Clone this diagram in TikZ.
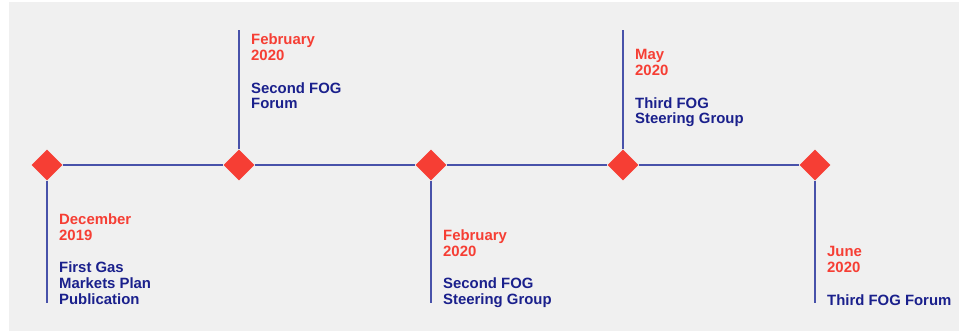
\documentclass[tikz,border=0pt]{standalone}
\usepackage{fontspec}
\setmainfont{Liberation Sans}
\usepackage{xcolor}
\usepackage{tikz}
\usetikzlibrary{positioning,shapes.geometric}
\definecolor{tlred}{RGB}{246,62,52}
\definecolor{tlnavy}{RGB}{26,32,140}
\definecolor{tlline}{RGB}{72,82,170}
\definecolor{tlbg}{RGB}{240,240,240}

\begin{document}
\begin{tikzpicture}[
  x=1pt, y=-1pt,
  mark box/.style={diamond, fill=tlred, minimum size=31pt, inner sep=0pt},
  date/.style={anchor=north west, inner sep=0pt, align=left, text=tlred,
               font=\bfseries\fontsize{14.9}{16}\selectfont},
  title/.style={anchor=north west, inner sep=0pt, align=left, text=tlnavy,
                font=\bfseries\fontsize{14.9}{16}\selectfont},
  tick/.style={draw=tlline, line width=1.1pt},
]
\useasboundingbox (0,0) rectangle (959,335);
\fill[white] (0,0) rectangle (959,335);
\fill[tlbg] (9,2) rectangle (959,331);

% milestones on the axis
\node[mark box] (m1) at (47,165) {};
\node[mark box] (m2) at (239,165) {};
\node[mark box] (m3) at (431,165) {};
\node[mark box] (m4) at (623,165) {};
\node[mark box] (m5) at (815,165) {};

\coordinate (e1) at (47,303);
\coordinate (e2) at (239,30);
\coordinate (e3) at (431,303);
\coordinate (e4) at (623,30);
\coordinate (e5) at (815,303);

\draw[tick] (m1.east) -- (m2.west);
\draw[tick] (m2.east) -- (m3.west);
\draw[tick] (m3.east) -- (m4.west);
\draw[tick] (m4.east) -- (m5.west);

\draw[tick] (m1.south) -- (e1);
\draw[tick] (m2.north) -- (e2);
\draw[tick] (m3.south) -- (e3);
\draw[tick] (m4.north) -- (e4);
\draw[tick] (m5.south) -- (e5);

% labels
\node[date] (d1) at (59,213) {December\\2019};
\node[title, below=48pt of d1.north west, anchor=north west] (t1) {First Gas\\Markets Plan\\Publication};

\node[date] (d2) at (251,34) {February\\2020};
\node[title, below=48pt of d2.north west, anchor=north west] (t2) {Second FOG\\Forum};

\node[date] (d3) at (443,229) {February\\2020};
\node[title, below=48pt of d3.north west, anchor=north west] (t3) {Second FOG\\Steering Group};

\node[date] (d4) at (635,49) {May\\2020};
\node[title, below=48pt of d4.north west, anchor=north west] (t4) {Third FOG\\Steering Group};

\node[date] (d5) at (827,246) {June\\2020};
\node[title, below=48pt of d5.north west, anchor=north west] (t5) {Third FOG Forum};
\end{tikzpicture}
\end{document}
